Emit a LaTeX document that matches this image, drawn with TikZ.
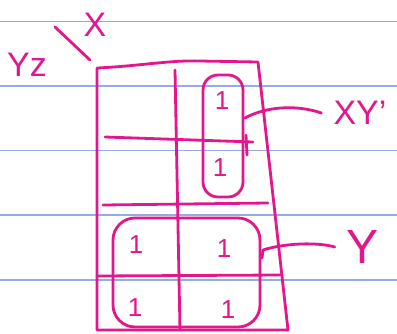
\documentclass[tikz,border=0pt]{standalone}
\usepackage{fontspec}
\setmainfont{Liberation Sans}
\definecolor{ink}{RGB}{228,22,140}
\definecolor{rule}{RGB}{150,172,222}
\begin{document}
\begin{tikzpicture}[x=1pt,y=-1pt,
  pen/.style={draw=ink,line width=2.8pt,line cap=round,line join=round},
  paperline/.style={draw=rule,line width=1.3pt},
  lab/.style={text=ink,inner sep=0pt,font=\fontsize{34}{34}\selectfont},
  one/.style={text=ink,inner sep=0pt,font=\fontsize{26}{26}\selectfont}]
\useasboundingbox (0,0) rectangle (397,333);
\fill[white] (0,0) rectangle (397,333);
% ruled paper
\foreach \yy in {21.5,86,150.5,215,280}
  \draw[paperline] (0,\yy) -- (397,\yy);
% outer frame
\draw[pen] (97,68) .. controls (140,66) and (170,60) .. (200,61) -- (258,62) -- (288,330) -- (97,330) -- cycle;
% middle column line
\draw[pen] (175,70) -- (180,330);
% row lines
\draw[pen] (105,137) -- (253,142);
\draw[pen] (103,205) -- (268,203);
\draw[pen] (97,276) -- (280,275);
% loops
\draw[pen,rounded corners=15pt] (203,75) rectangle (243,197);
\draw[pen,rounded corners=22pt] (113,218) rectangle (260,327);
\draw[pen] (246,135) -- (247,155);
% labels
\node[lab] (X) at (95,25) {X};
\node[lab] (YZ) at (27,65) {Yz};
\node[lab] (XYp) at (360,113) {XY'};
\node[lab,font=\fontsize{48}{48}\selectfont] (Ylab) at (363,247) {Y};
\coordinate (slashA) at (55,27);
\coordinate (slashB) at (90,60);
\draw[pen] (slashA) -- (slashB);
% ones
\node[one] (c12a) at (222,101) {1};
\node[one] (c22a) at (220,168) {1};
\node[one] (c31) at (136,245) {1};
\node[one] (c32) at (224,249) {1};
\node[one] (c41) at (135,308) {1};
\node[one] (c42) at (228,310) {1};
% leaders
\coordinate (topLoopPt) at (245,118);
\coordinate (botLoopPt) at (263,250);
\draw[pen] (topLoopPt) .. controls (265,107) and (295,104) .. ([xshift=-12pt]XYp.west);
\draw[pen] (262,258) -- (botLoopPt) .. controls (285,243) and (318,242) .. ([xshift=-12pt]Ylab.west);
\end{tikzpicture}
\end{document}
